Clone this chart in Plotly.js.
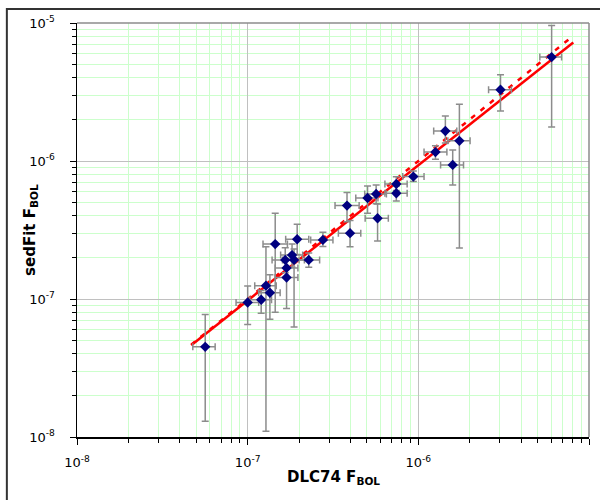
<!DOCTYPE html>
<html>
<head>
<meta charset="utf-8">
<script src="https://cdn.plot.ly/plotly-3.0.1.min.js"></script>
<style>
  html, body { margin: 0; padding: 0; background: #ffffff; }
  #chart { width: 600px; height: 500px; }
</style>
</head>
<body>
<div id="chart"></div>
<script>
// Bolometric fluxes: DLC74 (x) against sedFit (y), with error bounds
const dlc74 = [5.64e-8, 1.00e-7, 1.20e-7, 1.28e-7, 1.35e-7, 1.45e-7, 1.66e-7, 1.69e-7, 1.69e-7, 1.82e-7,
               1.87e-7, 1.95e-7, 2.28e-7, 2.76e-7, 3.82e-7, 3.98e-7, 5.04e-7, 5.66e-7, 5.77e-7, 7.43e-7,
               7.43e-7, 9.35e-7, 1.26e-6, 1.44e-6, 1.59e-6, 1.74e-6, 3.03e-6, 6.04e-6];
const dlc74Lo = [4.77e-8, 8.55e-8, 1.03e-7, 1.10e-7, 1.16e-7, 1.23e-7, 1.39e-7, 1.45e-7, 1.45e-7, 1.56e-7,
                 1.60e-7, 1.67e-7, 2.00e-7, 2.34e-7, 3.25e-7, 3.40e-7, 4.30e-7, 4.85e-7, 4.88e-7, 6.37e-7,
                 6.37e-7, 8.10e-7, 1.08e-6, 1.23e-6, 1.35e-6, 1.49e-6, 2.58e-6, 5.15e-6];
const dlc74Hi = [6.45e-8, 1.16e-7, 1.38e-7, 1.47e-7, 1.55e-7, 1.71e-7, 1.91e-7, 1.97e-7, 1.97e-7, 2.10e-7,
                 2.15e-7, 2.28e-7, 2.64e-7, 3.16e-7, 4.50e-7, 4.60e-7, 5.80e-7, 6.50e-7, 6.67e-7, 8.60e-7,
                 8.60e-7, 1.08e-6, 1.47e-6, 1.68e-6, 1.84e-6, 2.01e-6, 3.51e-6, 6.91e-6];

const sedFit = [4.50e-8, 9.44e-8, 9.87e-8, 1.25e-7, 1.11e-7, 2.50e-7, 1.92e-7, 1.68e-7, 1.43e-7, 2.08e-7,
                1.92e-7, 2.71e-7, 1.92e-7, 2.68e-7, 4.75e-7, 3.00e-7, 5.40e-7, 5.77e-7, 3.85e-7, 6.82e-7,
                5.84e-7, 7.71e-7, 1.16e-6, 1.65e-6, 9.37e-7, 1.40e-6, 3.28e-6, 5.66e-6];
const sedFitLo = [1.30e-8, 6.54e-8, 7.90e-8, 1.10e-8, 7.13e-8, 8.00e-8, 1.55e-7, 1.45e-7, 8.55e-8, 1.70e-7,
                  6.28e-8, 2.10e-7, 1.70e-7, 2.40e-7, 3.63e-7, 2.39e-7, 4.18e-7, 4.90e-7, 2.63e-7, 6.10e-7,
                  5.13e-7, 7.09e-7, 1.03e-6, 1.35e-6, 6.71e-7, 2.34e-7, 2.30e-6, 1.76e-6];
const sedFitHi = [7.73e-8, 1.24e-7, 1.15e-7, 2.39e-7, 1.50e-7, 4.18e-7, 2.35e-7, 1.95e-7, 1.70e-7, 2.50e-7,
                  2.30e-7, 3.48e-7, 2.15e-7, 3.04e-7, 5.90e-7, 3.70e-7, 6.60e-7, 6.70e-7, 4.88e-7, 7.70e-7,
                  6.60e-7, 8.47e-7, 1.29e-6, 2.12e-6, 1.20e-6, 2.58e-6, 4.21e-6, 9.61e-6];

// Power-law fit (solid) and one-to-one line (dashed), as end points
const fitX = [4.67e-8, 8.09e-6];
const fitY = [4.63e-8, 7.23e-6];
const oneToOne = [4.67e-8, 7.57e-6];

// Decade tick labels
const decadeVals = [1e-8, 1e-7, 1e-6, 1e-5];
const decadeText = ['10<sup>-8</sup>', '10<sup>-7</sup>', '10<sup>-6</sup>', '10<sup>-5</sup>'];

// Axis titles
const xTitle = '<b>DLC74 F<sub>BOL</sub></b>';
const yTitle = '<b>sedFit F<sub>BOL</sub></b>';

// minor ticks at 2..9 within each decade
const minorVals = [];
for (let e = -8; e < -5; e++) {
  for (let m = 2; m <= 9; m++) minorVals.push(m * Math.pow(10, e));
}

const plusX = dlc74.map((v, i) => dlc74Hi[i] - v);
const minusX = dlc74.map((v, i) => v - dlc74Lo[i]);
const plusY = sedFit.map((v, i) => sedFitHi[i] - v);
const minusY = sedFit.map((v, i) => v - sedFitLo[i]);

const errStyle = { color: '#8c8c8c', thickness: 1.5, width: 3.5 };
const FONT = 'DejaVu Sans, Verdana, sans-serif';

const traces = [
  {
    x: oneToOne, y: oneToOne, mode: 'lines', type: 'scatter',
    line: { color: '#ff0000', width: 2.5, dash: '5px,7px' },
    hoverinfo: 'skip'
  },
  {
    x: fitX, y: fitY, mode: 'lines', type: 'scatter',
    line: { color: '#ff0000', width: 2.5 },
    hoverinfo: 'skip'
  },
  {
    x: dlc74, y: sedFit, mode: 'markers', type: 'scatter',
    marker: { symbol: 'diamond', size: 8, color: '#000080', line: { width: 0 } },
    error_x: Object.assign({ type: 'data', symmetric: false, array: plusX, arrayminus: minusX }, errStyle),
    error_y: Object.assign({ type: 'data', symmetric: false, array: plusY, arrayminus: minusY }, errStyle)
  }
];

function logAxis(extra) {
  return Object.assign({
    type: 'log',
    range: [-8, -5],
    tickmode: 'array',
    tickvals: decadeVals,
    ticktext: decadeText,
    ticks: 'outside',
    ticklen: 6,
    tickwidth: 1,
    tickcolor: '#000000',
    tickfont: { family: FONT, size: 13, color: '#000000' },
    showline: true,
    linecolor: '#000000',
    linewidth: 1.5,
    showgrid: true,
    gridcolor: '#c0c0c0',
    gridwidth: 1,
    zeroline: false,
    minor: {
      tickmode: 'array',
      tickvals: minorVals,
      ticks: 'outside',
      ticklen: 4,
      tickwidth: 1,
      tickcolor: '#000000',
      showgrid: true,
      gridcolor: '#ccffcc',
      gridwidth: 1
    },
    automargin: false
  }, extra);
}

const titleFont = { family: FONT, size: 15, color: '#000000' };

const layout = {
  width: 600,
  height: 500,
  margin: { l: 77, r: 11, t: 23, b: 63 },
  paper_bgcolor: '#ffffff',
  plot_bgcolor: '#ffffff',
  showlegend: false,
  xaxis: logAxis({ ticklabelstandoff: 7 }),
  yaxis: logAxis({ ticklabelstandoff: 12 }),
  annotations: [
    { text: xTitle, xref: 'paper', yref: 'paper', x: 0.5, y: -0.097,
      xanchor: 'center', yanchor: 'middle', showarrow: false, font: titleFont },
    { text: yTitle, xref: 'paper', yref: 'paper', x: -0.092, y: 0.5, textangle: -90,
      xanchor: 'center', yanchor: 'middle', showarrow: false, font: titleFont }
  ],
  shapes: [
    // grey frame on the top and right of the plotting area
    { type: 'line', xref: 'paper', yref: 'paper', x0: 0, x1: 1, y0: 1, y1: 1,
      line: { color: '#8c8c8c', width: 1.5 }, layer: 'above' },
    { type: 'line', xref: 'paper', yref: 'paper', x0: 1, x1: 1, y0: 0, y1: 1,
      line: { color: '#8c8c8c', width: 1.5 }, layer: 'above' },
    // outer chart border (left and top edges)
    { type: 'path', xref: 'paper', yref: 'paper',
      path: 'M -0.1370,-0.2 L -0.1370,1.0338 L 1.05,1.0338',
      line: { color: '#333333', width: 2 }, layer: 'above' }
  ]
};

Plotly.newPlot('chart', traces, layout, { staticPlot: true, displayModeBar: false });
</script>
</body>
</html>
